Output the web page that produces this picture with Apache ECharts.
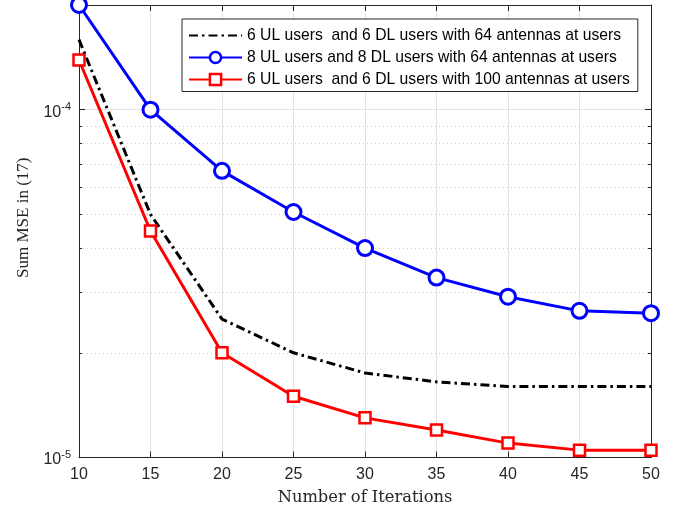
<!DOCTYPE html>
<html>
<head>
<meta charset="utf-8">
<script src="https://cdn.jsdelivr.net/npm/echarts@6/dist/echarts.min.js"></script>
<style>
  html, body { margin: 0; padding: 0; background: #fff; }
  #chart { width: 680px; height: 515px; }
</style>
</head>
<body>
<div id="chart"></div>
<script>
// Iteration counts on the x axis
const iterations = [10, 15, 20, 25, 30, 35, 40, 45, 50];

// Sum MSE per iteration for each configuration
const mse6ul6dl64 = [1.59e-4, 5.0e-5, 2.5e-5, 2.0e-5, 1.75e-5, 1.65e-5, 1.60e-5, 1.60e-5, 1.60e-5];
const mse8ul8dl64 = [2.0e-4, 1.0e-4, 6.67e-5, 5.08e-5, 4.0e-5, 3.29e-5, 2.90e-5, 2.64e-5, 2.60e-5];
const mse6ul6dl100 = [1.39e-4, 4.48e-5, 2.0e-5, 1.5e-5, 1.3e-5, 1.2e-5, 1.1e-5, 1.05e-5, 1.05e-5];

const seriesNames = [
  '6 UL users  and 6 DL users with 64 antennas at users',
  '8 UL users and 8 DL users with 64 antennas at users',
  '6 UL users  and 6 DL users with 100 antennas at users'
];

// Axis ranges and ticks
const xMin = 10, xMax = 50, xStep = 5;
const yMin = 1e-5, yMax = 2e-4;
const minorLogValues = [2e-5, 3e-5, 4e-5, 5e-5, 6e-5, 7e-5, 8e-5, 9e-5];

const axisColor = '#262626';
const tickFont = 'Liberation Sans, Arial, sans-serif';
const titleFont = 'Liberation Serif, Times New Roman, serif';
const xTitleFont = 'DejaVu Serif, serif';

function pair(ys) { return iterations.map((x, i) => [x, ys[i]]); }

function powerLabel(v) {
  const e = Math.round(Math.log10(v));
  if (Math.abs(v - Math.pow(10, e)) / v > 1e-6) return '';
  return '{b|10}{s|' + e + '}';
}

const chart = echarts.init(document.getElementById('chart'), null, { renderer: 'canvas' });

const yAxisBase = {
  type: 'log',
  logBase: 10,
  min: yMin,
  max: yMax,
  axisLine: { show: true, lineStyle: { color: axisColor, width: 1 } },
  axisTick: { show: true, inside: true, length: 6, lineStyle: { color: axisColor } },
  minorTick: { show: false },
  splitLine: { show: false }
};

const xAxisBase = {
  type: 'value',
  min: xMin,
  max: xMax,
  interval: xStep,
  axisLine: { show: true, lineStyle: { color: axisColor, width: 1 } },
  axisTick: { show: true, inside: true, length: 6, lineStyle: { color: axisColor } },
  splitLine: { show: false }
};

chart.setOption({
  animation: false,
  backgroundColor: '#fff',
  grid: { left: 79, right: 29, top: 5, bottom: 57.5, containLabel: false },
  legend: {
    data: [
      { name: seriesNames[0], itemStyle: { opacity: 0 } },
      { name: seriesNames[1], itemStyle: { borderWidth: 2.5 } },
      { name: seriesNames[2], itemStyle: { borderWidth: 2.5 } }
    ],
    orient: 'vertical',
    left: 182,
    top: 19,
    itemWidth: 53,
    itemHeight: 14,
    itemGap: 6,
    padding: [8.5, 8, 4, 6],
    borderColor: axisColor,
    borderWidth: 1,
    backgroundColor: '#fff',
    textStyle: { fontFamily: tickFont, fontSize: 15.7, color: '#000' }
  },
  xAxis: [
    Object.assign({}, xAxisBase, {
      position: 'bottom',
      axisLabel: { show: true, margin: 9, fontSize: 16, color: axisColor, fontFamily: tickFont },
      splitLine: { show: true, lineStyle: { color: '#e3e3e3', width: 1 } },
      name: 'Number of Iterations',
      nameLocation: 'middle',
      nameGap: 32,
      nameTextStyle: { fontFamily: xTitleFont, fontSize: 16.3, color: axisColor }
    }),
    Object.assign({}, xAxisBase, {
      position: 'top',
      axisLabel: { show: false }
    })
  ],
  yAxis: [
    Object.assign({}, yAxisBase, {
      position: 'left',
      axisLabel: {
        show: true,
        margin: 8,
        formatter: powerLabel,
        color: axisColor,
        rich: {
          b: { fontSize: 16, fontFamily: tickFont, color: axisColor, padding: [5, 0, 0, 0] },
          s: { fontSize: 11, fontFamily: tickFont, color: axisColor, padding: [0, 0, 6, 0] }
        }
      },
      splitLine: { show: true, lineStyle: { color: '#e3e3e3', width: 1 } },
      name: 'Sum MSE in (17)',
      nameLocation: 'middle',
      nameGap: 47,
      nameTextStyle: { fontFamily: titleFont, fontSize: 17, color: axisColor, padding: [0, 0, 0, 27] }
    }),
    Object.assign({}, yAxisBase, {
      position: 'right',
      axisLabel: { show: false }
    })
  ],
  series: [
    {
      // dotted minor grid of the log axis, with short inward ticks on both sides
      type: 'custom',
      xAxisIndex: 0,
      yAxisIndex: 0,
      silent: true,
      z: 1,
      clip: false,
      data: minorLogValues.map(v => [xMin, v]),
      renderItem: function (params, api) {
        const v = api.value(1);
        const p0 = api.coord([xMin, v]);
        const p1 = api.coord([xMax, v]);
        const y = Math.round(p0[1]) + 0.5;
        return {
          type: 'group',
          children: [
            { type: 'line', shape: { x1: p0[0], y1: y, x2: p1[0], y2: y },
              style: { stroke: '#cfcfcf', lineWidth: 1, lineDash: [1, 3] } },
            { type: 'line', shape: { x1: p0[0], y1: y, x2: p0[0] + 3, y2: y },
              style: { stroke: axisColor, lineWidth: 1 } },
            { type: 'line', shape: { x1: p1[0] - 3, y1: y, x2: p1[0], y2: y },
              style: { stroke: axisColor, lineWidth: 1 } }
          ]
        };
      }
    },
    {
      name: seriesNames[0],
      type: 'line',
      z: 3,
      clip: false,
      data: pair(mse6ul6dl64),
      symbol: 'none',
      color: '#000000',
      lineStyle: { color: '#000000', width: 3, type: [9, 4, 2.5, 4] }
    },
    {
      name: seriesNames[1],
      type: 'line',
      z: 4,
      clip: false,
      data: pair(mse8ul8dl64),
      symbol: 'circle',
      symbolSize: 15,
      color: '#0000ff',
      lineStyle: { color: '#0000ff', width: 3 },
      itemStyle: { color: '#ffffff', borderColor: '#0000ff', borderWidth: 3 }
    },
    {
      name: seriesNames[2],
      type: 'line',
      z: 5,
      clip: false,
      data: pair(mse6ul6dl100),
      symbol: 'rect',
      symbolSize: 11,
      color: '#ff0000',
      lineStyle: { color: '#ff0000', width: 3 },
      itemStyle: { color: '#ffffff', borderColor: '#ff0000', borderWidth: 2.5 }
    }
  ]
});
</script>
</body>
</html>
